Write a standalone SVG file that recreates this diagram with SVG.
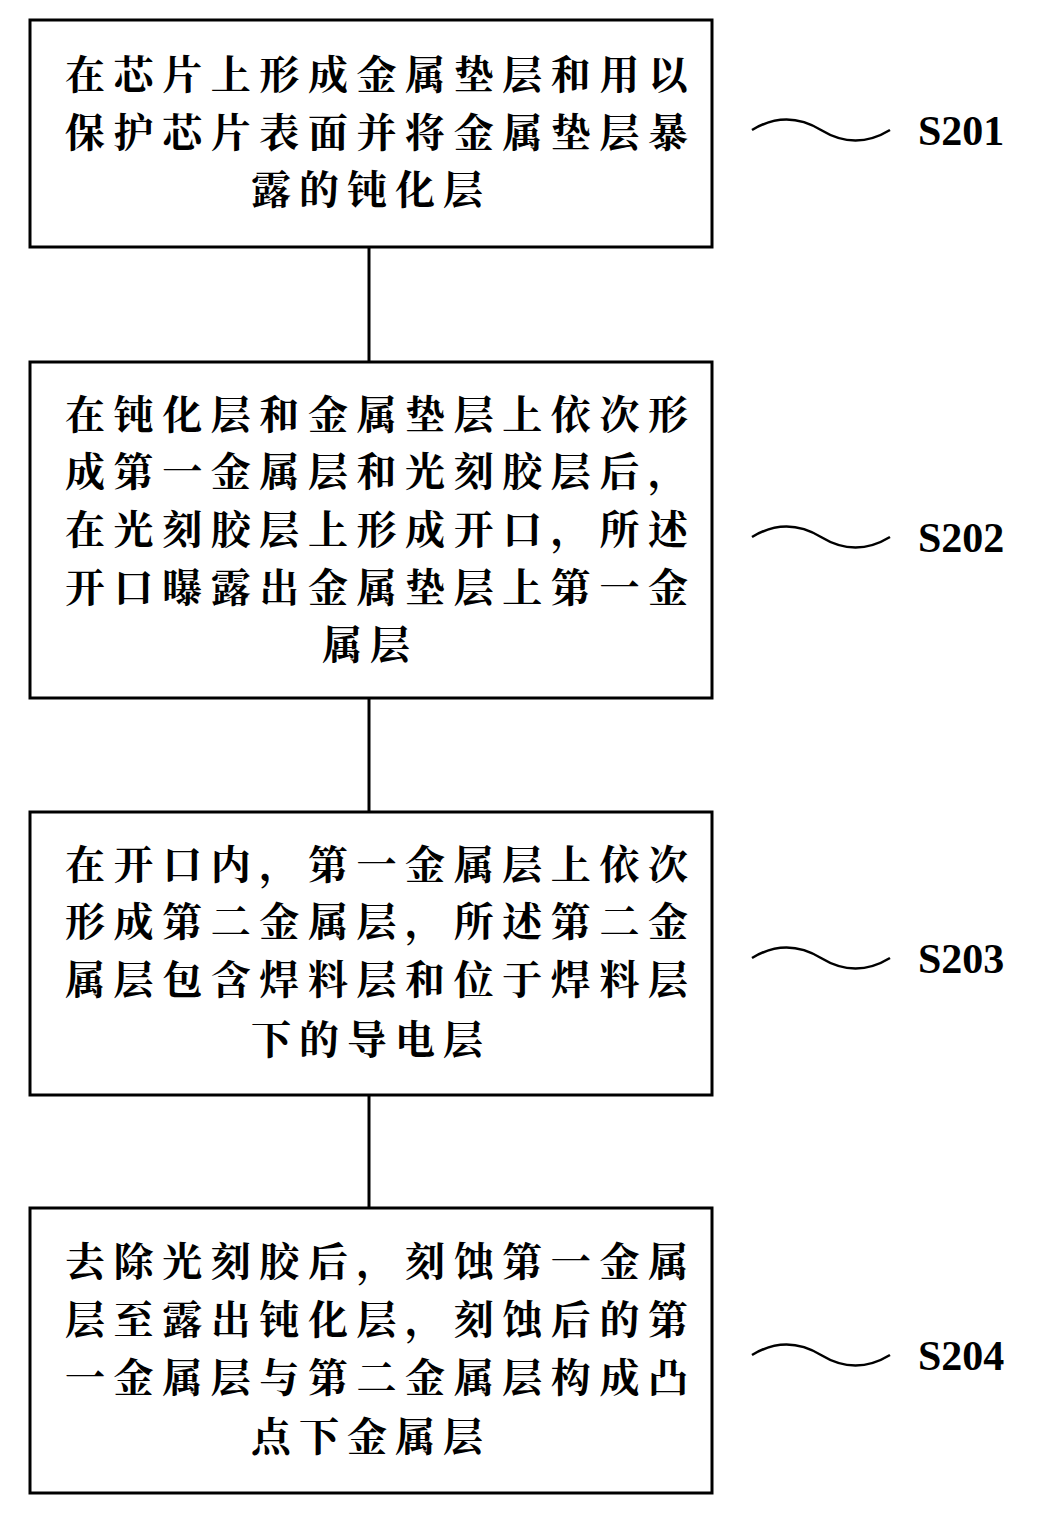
<svg xmlns="http://www.w3.org/2000/svg" width="1058" height="1525" viewBox="0 0 1058 1525">
<style>
.box{fill:#fff;stroke:#000;stroke-width:3}
.t{font-family:"Noto Serif CJK SC","Noto Sans CJK SC",serif;font-weight:bold;font-size:40px;fill:#000}
.c{text-anchor:middle}
.lab{font-family:"Liberation Serif",serif;font-weight:bold;font-size:42px;fill:#000}
.w{fill:none;stroke:#000;stroke-width:2.5}
.ln{stroke:#000;stroke-width:3}
</style>
<rect width="1058" height="1525" fill="#fff"/>
<g id="connectors">
<line class="ln" x1="369" y1="247" x2="369" y2="362"/>
<line class="ln" x1="369" y1="698" x2="369" y2="812"/>
<line class="ln" x1="369" y1="1095" x2="369" y2="1208"/>
</g>
<g id="s201">
<rect class="box" x="30" y="20" width="682" height="227"/>
<text class="t" x="65" y="89" textLength="623" lengthAdjust="spacing">在芯片上形成金属垫层和用以</text>
<text class="t" x="65" y="147" textLength="623" lengthAdjust="spacing">保护芯片表面并将金属垫层暴</text>
<text class="t c" x="371" y="204" letter-spacing="8">露的钝化层</text>
<path class="w" d="M752,130 C775,116 798,116 821,130 S867,144 890,130"/>
<text class="lab" x="918" y="145">S201</text>
</g>
<g id="s202">
<rect class="box" x="30" y="362" width="682" height="336"/>
<text class="t" x="65" y="429" textLength="623" lengthAdjust="spacing">在钝化层和金属垫层上依次形</text>
<text class="t" x="65" y="486" textLength="623" lengthAdjust="spacing">成第一金属层和光刻胶层后，</text>
<text class="t" x="65" y="544" textLength="623" lengthAdjust="spacing">在光刻胶层上形成开口，所述</text>
<text class="t" x="65" y="602" textLength="623" lengthAdjust="spacing">开口曝露出金属垫层上第一金</text>
<text class="t c" x="370" y="659" letter-spacing="8">属层</text>
<path class="w" d="M752,537 C775,523 798,523 821,537 S867,551 890,537"/>
<text class="lab" x="918" y="552">S202</text>
</g>
<g id="s203">
<rect class="box" x="30" y="812" width="682" height="283"/>
<text class="t" x="65" y="879" textLength="623" lengthAdjust="spacing">在开口内，第一金属层上依次</text>
<text class="t" x="65" y="936" textLength="623" lengthAdjust="spacing">形成第二金属层，所述第二金</text>
<text class="t" x="65" y="994" textLength="623" lengthAdjust="spacing">属层包含焊料层和位于焊料层</text>
<text class="t c" x="371" y="1054" letter-spacing="8">下的导电层</text>
<path class="w" d="M752,958 C775,944 798,944 821,958 S867,972 890,958"/>
<text class="lab" x="918" y="973">S203</text>
</g>
<g id="s204">
<rect class="box" x="30" y="1208" width="682" height="285"/>
<text class="t" x="65" y="1276" textLength="623" lengthAdjust="spacing">去除光刻胶后，刻蚀第一金属</text>
<text class="t" x="65" y="1334" textLength="623" lengthAdjust="spacing">层至露出钝化层，刻蚀后的第</text>
<text class="t" x="65" y="1392" textLength="623" lengthAdjust="spacing">一金属层与第二金属层构成凸</text>
<text class="t c" x="371" y="1451" letter-spacing="8">点下金属层</text>
<path class="w" d="M752,1355 C775,1341 798,1341 821,1355 S867,1369 890,1355"/>
<text class="lab" x="918" y="1370">S204</text>
</g>
</svg>
